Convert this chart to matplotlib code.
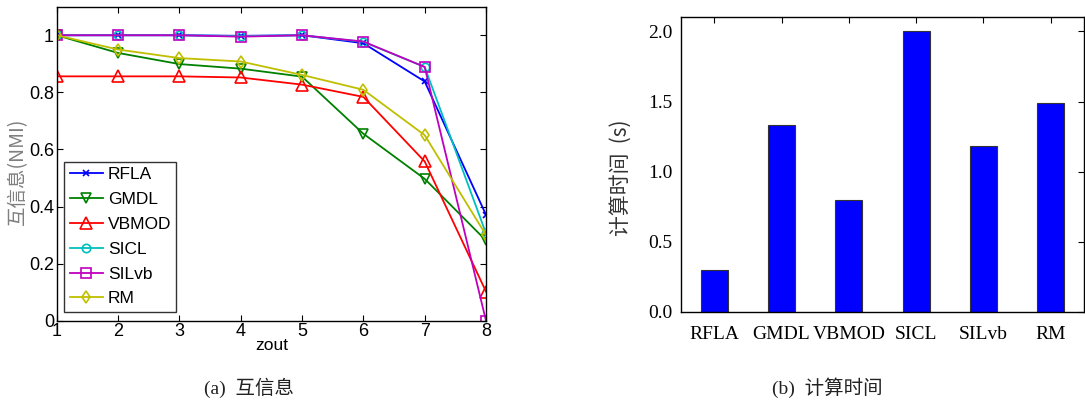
import matplotlib
matplotlib.use("Agg")
import matplotlib.pyplot as plt

# ---- data -------------------------------------------------------------
zout = [1, 2, 3, 4, 5, 6, 7, 8]
nmi_rfla = [1.0, 1.0, 1.0, 0.998, 1.0, 0.972, 0.838, 0.371]
nmi_gmdl = [1.0, 0.938, 0.899, 0.883, 0.855, 0.655, 0.497, 0.281]
nmi_vbmod = [0.856, 0.856, 0.856, 0.852, 0.827, 0.784, 0.558, 0.102]
nmi_sicl = [1.0, 1.0, 1.0, 0.997, 1.0, 0.977, 0.889, 0.306]
nmi_silvb = [1.0, 1.0, 1.0, 0.995, 1.0, 0.978, 0.889, 0.0]
nmi_rm = [1.0, 0.950, 0.920, 0.908, 0.861, 0.809, 0.650, 0.300]

methods = ["RFLA", "GMDL", "VBMOD", "SICL", "SILvb", "RM"]
run_time = [0.30, 1.33, 0.80, 2.00, 1.18, 1.49]

# ---- figure -----------------------------------------------------------
W, H = 1085, 404
fig = plt.figure(figsize=(W / 100, H / 100), dpi=100)

sans = ["Liberation Sans", "Noto Sans CJK SC", "DejaVu Sans"]
serif = ["Liberation Serif", "Noto Sans CJK SC", "DejaVu Sans"]
cjk = ["Noto Sans CJK SC", "Liberation Sans", "DejaVu Sans"]

# (a) NMI vs zout
ax1 = fig.add_axes([56.7 / W, 1 - 320.7 / H, (486 - 56.7) / W, (320.7 - 6.7) / H])
series = [
    ("RFLA", nmi_rfla, (0, 0, 1), "x", 4),
    ("GMDL", nmi_gmdl, (0, 0.5, 0), "v", 7),
    ("VBMOD", nmi_vbmod, (1, 0, 0), "^", 8),
    ("SICL", nmi_sicl, (0, 0.75, 0.75), "o", 6),
    ("SILvb", nmi_silvb, (0.75, 0, 0.75), "s", 6.5),
    ("RM", nmi_rm, (0.75, 0.75, 0), "d", 6.5),
]
for name, vals, col, mk, ms in series:
    ax1.plot(zout, vals, color=col, lw=1.3, marker=mk, ms=ms,
             mfc="none", mec=col, mew=1.2, label=name)

ax1.set_xlim(1, 8)
ax1.set_ylim(0, 1.1)
ax1.set_xticks(zout)
ax1.set_yticks([0, 0.2, 0.4, 0.6, 0.8, 1.0])
ax1.set_yticklabels(["0", "0.2", "0.4", "0.6", "0.8", "1"])
ax1.tick_params(direction="in", top=True, right=True, length=4, width=0.8,
                labelsize=13, pad=2)
for lab in ax1.get_xticklabels() + ax1.get_yticklabels():
    lab.set_family(sans)
for sp in ax1.spines.values():
    sp.set_linewidth(1.0)
ax1.set_xlabel("zout", family=sans, fontsize=12.5, labelpad=-2)
ax1.set_ylabel("互信息(NMI)", family=cjk, fontsize=14, color="#7f7f7f")
ax1.yaxis.set_label_coords(-0.066, 0.477)

leg = ax1.legend(loc="lower left", bbox_to_anchor=(7.6 / 429.3, 9.0 / 314),
                 prop={"family": sans, "size": 12.5}, frameon=True, fancybox=False,
                 edgecolor="black", handlelength=1.95, handletextpad=0.25,
                 labelspacing=0.56, borderpad=0.3, borderaxespad=0)
leg.get_frame().set_linewidth(1.0)

# (b) running time
ax2 = fig.add_axes([680.7 / W, 1 - 312 / H, (1084.3 - 680.7) / W, (312 - 17.3) / H])
pos = list(range(1, len(methods) + 1))
ax2.bar(pos, run_time, width=0.4, color=(0, 0, 1), edgecolor="#333333", lw=0.8)
ax2.set_xlim(0.5, 6.5)
ax2.set_ylim(0, 2.1)
ax2.set_xticks(pos)
ax2.set_xticklabels(methods)
ax2.set_yticks([0.0, 0.5, 1.0, 1.5, 2.0])
ax2.set_yticklabels(["0.0", "0.5", "1.0", "1.5", "2.0"])
ax2.tick_params(axis="both", direction="in", top=True, right=True, length=4,
                width=0.8, labelsize=14)
ax2.tick_params(axis="y", left=False, pad=6)
ax2.tick_params(axis="x", bottom=False, pad=10)
for lab in ax2.get_xticklabels() + ax2.get_yticklabels():
    lab.set_family(serif)
for sp in ax2.spines.values():
    sp.set_linewidth(1.0)
ax2.set_ylabel("计算时间  (s)", family=cjk, fontsize=15, color="#333333")
ax2.yaxis.set_label_coords(-0.121, 0.455)

# captions
fig.text(249 / W, 1 - 388 / H, "(a)  互信息", family=serif, fontsize=14,
         ha="center", va="center", color="#222222")
fig.text(827 / W, 1 - 388 / H, "(b)  计算时间", family=serif, fontsize=14,
         ha="center", va="center", color="#222222")

fig.savefig("out.png", dpi=100)
